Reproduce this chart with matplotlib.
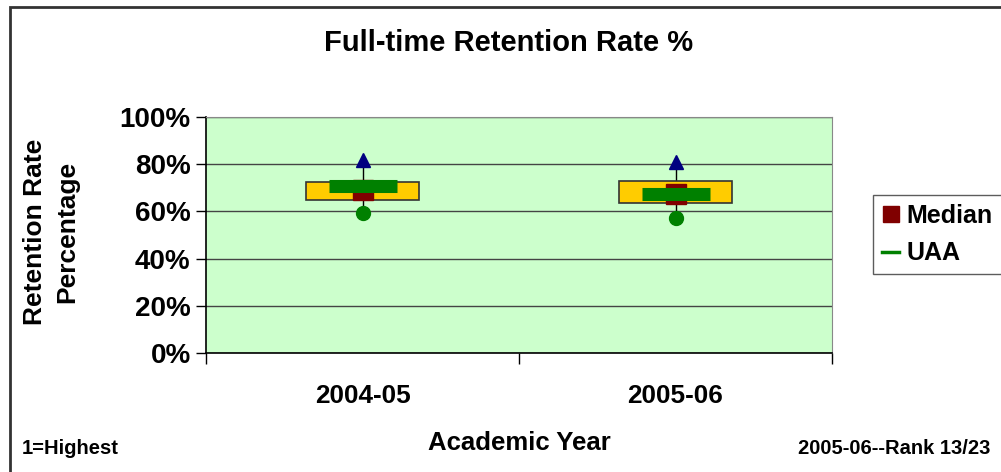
import matplotlib
matplotlib.use("Agg")
import matplotlib.pyplot as plt
import matplotlib.patches as mpatches
from matplotlib.lines import Line2D
from matplotlib.ticker import PercentFormatter
import numpy as np

plt.rcParams['font.family'] = ['Liberation Sans', 'DejaVu Sans']
plt.rcParams['font.weight'] = 'bold'

# Datos
years = ["2004-05", "2005-06"]
q1 = [64.8, 63.6]
q3 = [72.5, 73.0]
median = [68.9, 67.3]
uaa = [70.6, 67.3]
max_val = [81.8, 81.1]
min_val = [59.2, 57.1]
y_ticks = [0, 20, 40, 60, 80, 100]


def plot_retention():
    fig = plt.figure(figsize=(10.01, 4.72), dpi=100)
    ax = fig.add_axes([206 / 1001, 1 - 353 / 472, 626 / 1001, 236 / 472])
    ax.set_facecolor("#CCFFCC")

    x = np.arange(len(years)) + 0.5

    # Bigotes (min-max)
    ax.vlines(x, min_val, max_val, color="black", lw=1, zorder=2)
    # Caja 25-75
    box_h = np.array(q3) - np.array(q1)
    ax.bar(x, box_h, bottom=q1, width=0.364, color="#FFCC00",
           edgecolor="#333333", linewidth=1.2, zorder=3)
    # Mediana y UAA
    ax.plot(x, median, linestyle="none", marker="s", markersize=13.7,
            color="#800000", zorder=4)
    ax.plot(x, uaa, linestyle="none", marker="_", markersize=49,
            markeredgewidth=9.4, color="#008000", zorder=5)
    ax.plot(x, max_val, linestyle="none", marker="^", markersize=10,
            color="#000080", zorder=6)
    ax.plot(x, min_val, linestyle="none", marker="o", markersize=10,
            color="#008000", zorder=6)

    ax.set_xlim(0, len(years))
    ax.set_ylim(0, 100)
    ax.set_yticks(y_ticks)
    ax.yaxis.set_major_formatter(PercentFormatter(decimals=0))
    ax.yaxis.grid(True, color="#444444", lw=1)
    ax.set_axisbelow(True)

    ax.set_xticks(np.arange(len(years) + 1))
    ax.set_xticklabels([])
    ax.set_xticks(x, minor=True)
    ax.set_xticklabels(years, minor=True)
    ax.tick_params(axis="x", which="major", length=8, width=1, direction="out")
    ax.tick_params(axis="x", which="minor", length=0, pad=22, labelsize=18.8)
    ax.tick_params(axis="y", length=7, width=1, direction="out", labelsize=20, pad=4)

    for sp in ["left", "bottom"]:
        ax.spines[sp].set_color("black")
        ax.spines[sp].set_linewidth(1.2)
    for sp in ["top", "right"]:
        ax.spines[sp].set_color("#888888")

    fig.text(0.508, 1 - 43 / 472, "Full-time Retention Rate %", ha="center",
             va="center", fontsize=21, fontweight="bold")
    fig.text(519 / 1001, 1 - 443 / 472, "Academic Year", ha="center",
             va="center", fontsize=18.5, fontweight="bold")
    fig.text(51 / 1001, 1 - 232 / 472, "Retention Rate\nPercentage", ha="center",
             va="center", rotation=90, fontsize=19, fontweight="bold",
             linespacing=1.4)
    fig.text(22 / 1001, 1 - 449 / 472, "1=Highest", ha="left", va="center",
             fontsize=14.5, fontweight="bold")
    fig.text(990 / 1001, 1 - 449 / 472, "2005-06--Rank 13/23", ha="right",
             va="center", fontsize=14.5, fontweight="bold")

    handles = [
        Line2D([], [], linestyle="none", marker="s", markersize=11,
               color="#800000"),
        Line2D([], [], color="#008000", lw=2.5),
    ]
    leg = fig.legend(handles, ["Median", "UAA"], loc="upper left",
                     bbox_to_anchor=(873 / 1001, 1 - 195 / 472),
                     prop={"size": 18, "weight": "bold"}, frameon=True,
                     fancybox=False, handlelength=0.7, handletextpad=0.3,
                     borderpad=0.35, labelspacing=0.55, borderaxespad=0)
    leg.get_frame().set_edgecolor("#333333")
    leg.get_frame().set_linewidth(1)

    # Borde del grafico
    border = mpatches.Rectangle((10 / 1001, -0.05), 1.0, 1 - 7 / 472 + 0.05,
                                transform=fig.transFigure, fill=False,
                                edgecolor="#333333", linewidth=2, clip_on=False)
    fig.patches.append(border)

    fig.savefig("out.png", dpi=100)
    plt.close(fig)


if __name__ == "__main__":
    plot_retention()
